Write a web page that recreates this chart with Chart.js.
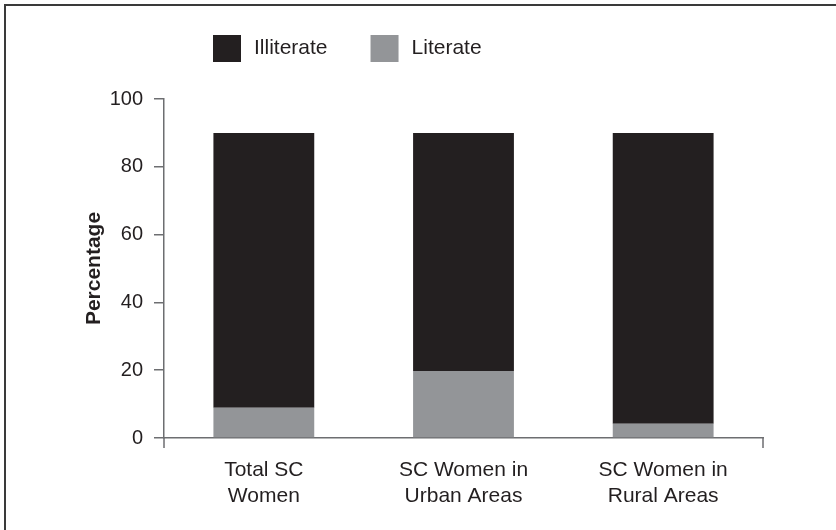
<!DOCTYPE html>
<html>
<head>
<meta charset="utf-8">
<script src="https://cdn.jsdelivr.net/npm/chart.js@4/dist/chart.umd.min.js"></script>
<style>
  html,body{margin:0;padding:0;background:#fff}
  #wrap{width:836px;height:530px;position:relative}
</style>
</head>
<body>
<div id="wrap"><canvas id="chart" width="836" height="530"></canvas></div>
<script>
// values (%)
const categories = [['Total SC','Women'], ['SC Women in','Urban Areas'], ['SC Women in','Rural Areas']];
const literate = [8.9, 19.8, 4.2];
const illiterate = [81.1, 70.2, 85.8];
const yTicks = [0, 20, 40, 60, 80, 100];

const INK = '#231f20';
const GREY = '#939598';
const AXIS = '#6d6e71';
const FONT = "'Liberation Sans', Arial, sans-serif";

// frame, axis stubs and the legend drawn by hand
const extras = {
  id: 'extras',
  afterDraw(chart){
    const c = chart.ctx, a = chart.chartArea;
    c.save();
    // outer frame (top + left only)
    c.strokeStyle = '#3a3a3a'; c.lineWidth = 2;
    c.beginPath(); c.moveTo(4, 5); c.lineTo(836, 5); c.moveTo(5, 4); c.lineTo(5, 530); c.stroke();
    // axis stubs below the x axis
    c.strokeStyle = AXIS; c.lineWidth = 1.5;
    c.beginPath();
    c.moveTo(a.left, a.bottom); c.lineTo(a.left, a.bottom + 10);
    c.moveTo(a.right, a.bottom); c.lineTo(a.right, a.bottom + 10);
    c.stroke();
    // legend
    c.font = '21px ' + FONT;
    c.textBaseline = 'middle';
    let x = 213;
    const items = chart.data.datasets.slice().reverse();
    for(const ds of items){
      c.fillStyle = ds.backgroundColor;
      c.fillRect(x, 35, 28, 27);
      c.fillStyle = INK;
      c.fillText(ds.label, x + 41, 48);
      x += 41 + c.measureText(ds.label).width + 43;
    }
    c.restore();
  }
};

new Chart(document.getElementById('chart'), {
  type: 'bar',
  data: {
    labels: categories,
    datasets: [
      { label: 'Literate', data: literate, backgroundColor: GREY, barPercentage: 0.505, categoryPercentage: 1 },
      { label: 'Illiterate', data: illiterate, backgroundColor: INK, barPercentage: 0.505, categoryPercentage: 1 }
    ]
  },
  options: {
    responsive: false,
    animation: false,
    layout: { padding: { top: 99, right: 73, left: 0, bottom: 0 } },
    plugins: { legend: { display: false }, tooltip: { enabled: false } },
    scales: {
      x: {
        stacked: true,
        grid: { display: false, drawTicks: false },
        border: { display: true, color: AXIS, width: 1.5 },
        ticks: { color: INK, font: { family: FONT, size: 21 }, padding: 20, maxRotation: 0 },
        afterFit(s){ s.height = 92; }
      },
      y: {
        stacked: true,
        min: 0, max: 100,
        afterBuildTicks(s){ s.ticks = yTicks.map(v => ({ value: v })); },
        grid: { drawOnChartArea: false, drawTicks: true, tickLength: 10, color: AXIS, lineWidth: 1.5 },
        border: { display: true, color: AXIS, width: 1.5 },
        ticks: { color: INK, font: { family: FONT, size: 20 }, padding: 11 },
        title: { display: true, text: 'Percentage', color: INK, font: { family: FONT, size: 21, weight: 'bold' }, padding: { top: 82, bottom: 4 } },
        afterFit(s){ s.width = 164; }
      }
    }
  },
  plugins: [extras]
});
</script>
</body>
</html>
